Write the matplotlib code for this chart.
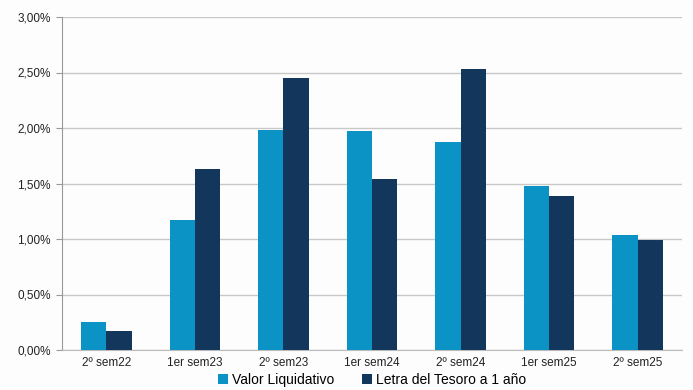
import matplotlib.pyplot as plt
import numpy as np
from matplotlib.ticker import FuncFormatter

plt.rcParams['font.family'] = ['Liberation Sans', 'DejaVu Sans']

periodos = ["2º sem22", "1er sem23", "2º sem23", "1er sem24", "2º sem24", "1er sem25", "2º sem25"]
valor_liquidativo = [0.25, 1.17, 1.98, 1.97, 1.87, 1.48, 1.04]
letra_tesoro = [0.17, 1.63, 2.45, 1.54, 2.53, 1.39, 0.99]

fig = plt.figure(figsize=(6.93, 3.9), dpi=100)
fig.patch.set_facecolor('#fdfdfd')
ax = fig.add_axes([62 / 693, 40 / 390, 620 / 693, 333 / 390])
ax.set_facecolor('#fdfdfd')

x = np.arange(len(periodos))
w = 0.285
ax.bar(x - w / 2, valor_liquidativo, w, color='#0b93c6', label='Valor Liquidativo', zorder=3)
ax.bar(x + w / 2, letra_tesoro, w, color='#13365c', label='Letra del Tesoro a 1 año', zorder=3)

ax.set_xlim(-0.5, len(periodos) - 0.5)
ax.set_ylim(0, 3.0)
ax.set_yticks(np.arange(0, 3.01, 0.5))
ax.yaxis.set_major_formatter(FuncFormatter(lambda v, p: ("%.2f%%" % v).replace('.', ',')))
ax.grid(axis='y', color='#c8c8c8', linewidth=1, zorder=0)

ax.set_xticks(x)
ax.set_xticklabels(periodos)
ax.tick_params(axis='x', length=0, pad=5, labelsize=8.5, colors='#222222')
ax.tick_params(axis='y', length=4, color='#999999', labelsize=8.5, colors='#222222', pad=4)

for s in ['top', 'right']:
    ax.spines[s].set_visible(False)
ax.spines['left'].set_color('#999999')
ax.spines['bottom'].set_color('#bbbbbb')

ax.legend(loc='center', bbox_to_anchor=(0.5, -0.09), ncol=2, frameon=False,
          fontsize=10, handlelength=0.7, handleheight=0.7, handletextpad=0.3,
          columnspacing=2.0, borderpad=0, borderaxespad=0)

plt.savefig("out.png", dpi=100, facecolor=fig.get_facecolor())
plt.close()
